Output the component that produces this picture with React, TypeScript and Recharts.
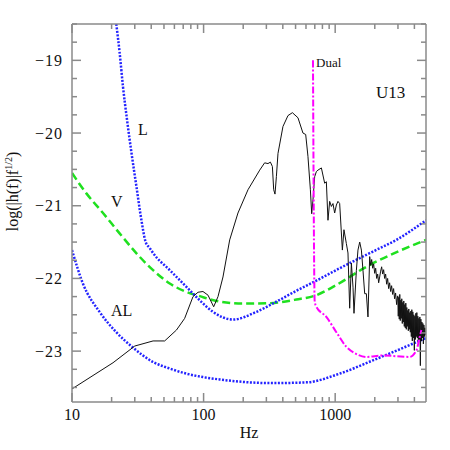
import React from 'react';
import { LineChart, Line, XAxis, YAxis } from 'recharts';

// ---- axis ticks ----
const X_TICKS = [10, 20, 30, 40, 50, 60, 70, 80, 90, 100, 200, 300, 400, 500, 600, 700, 800, 900, 1000, 2000, 3000, 4000];
const X_MAJOR = [10, 100, 1000];
const Y_TICKS = [-23.5, -23.25, -23, -22.75, -22.5, -22.25, -22, -21.75, -21.5, -21.25, -21, -20.75, -20.5, -20.25, -20, -19.75, -19.5, -19.25, -19, -18.75, -18.5];
const Y_MAJOR = [-23, -22, -21, -20, -19];
const X_DOMAIN = [10, 4900];
const Y_DOMAIN = [-23.7, -18.5];

// ---- L (blue dotted, upper) ----
const L_FREQ = [21.7, 23.0, 24.4, 26.2, 28.3, 30.9, 33.7, 36.3, 38.9, 41.3, 55.3, 74.0, 93.4, 117.9, 167.3, 252, 357, 507, 720, 1082, 1937, 2917, 4900];
const L_VAL = [-18.5, -18.89, -19.36, -19.82, -20.27, -20.74, -21.2, -21.5, -21.58, -21.65, -21.885, -22.116, -22.3, -22.46, -22.566, -22.46, -22.32, -22.17, -22.03, -21.86, -21.63, -21.47, -21.2];

// ---- V (green dashed) ----
const V_FREQ = [10, 12.86, 17.2, 23.0, 30.9, 41.3, 55.3, 74.0, 93.4, 125, 199, 318, 507, 720, 1000, 1726, 3090, 4900];
const V_VAL = [-20.55, -20.83, -21.1, -21.38, -21.655, -21.886, -22.07, -22.185, -22.244, -22.31, -22.345, -22.34, -22.29, -22.23, -22.1, -21.84, -21.62, -21.47];

// ---- AL (blue dotted, lower) ----
const AL_FREQ = [10, 12.1, 16.2, 21.7, 29, 41.3, 55.3, 74.0, 98.9, 132.5, 224, 336, 604, 1081, 1937, 3090, 4900];
const AL_VAL = [-21.61, -22.07, -22.46, -22.74, -22.95, -23.15, -23.24, -23.31, -23.357, -23.39, -23.43, -23.44, -23.43, -23.31, -23.127, -22.975, -22.82];

// ---- Dual (magenta dash-dot) ----
const DUAL_FREQ = [678, 699, 715, 857, 1021, 1216, 1449, 1726, 2307, 2916, 3681, 4140, 4385, 4518];
const DUAL_VAL = [-19.0, -22.32, -22.38, -22.53, -22.74, -22.94, -23.04, -23.08, -23.06, -23.07, -23.08, -22.99, -22.81, -22.71];

// ---- U13 signal (black) ----
const SIG_FREQ = [10, 20.5, 30, 41.3, 50.6, 62.2, 71.8, 83.1, 90.7, 98.9, 108, 119.3, 128.7, 140.4, 157.9, 182.5, 217.5, 267, 291, 308.6, 321.9, 333.3, 341, 348.8, 357.4, 367.6, 401, 437.8, 473, 521.6, 569, 597, 621, 648, 663, 678, 698.6, 719.6, 740, 785.6, 832, 857, 881.6, 908, 935.7, 962, 991, 1021, 1050, 1082, 1134, 1166, 1216, 1251, 1289, 1328, 1366, 1390, 1449, 1490, 1536, 1582, 1627, 1676, 1726, 1775,
  1829, 1861, 1894, 1927, 1961, 1996, 2031, 2067, 2103, 2140, 2178, 2216, 2255, 2295, 2335, 2376, 2418, 2461, 2504, 2548, 2593, 2639, 2685, 2732, 2780, 2829, 2879, 2930, 2960,
  2990, 3016, 3043, 3070, 3097, 3124, 3152, 3179, 3207, 3236, 3264, 3293, 3322, 3351, 3381, 3411, 3441, 3471, 3502, 3533, 3564, 3595, 3627, 3659, 3691, 3724, 3756, 3790, 3823, 3857, 3891, 3925, 3960, 3995, 4030, 4066, 4101, 4138, 4174, 4211, 4248, 4286, 4324, 4362, 4400, 4439, 4478, 4518, 4558, 4598, 4638, 4679, 4721, 4762, 4804, 4847, 4890];
const SIG_VAL = [-23.52, -23.16, -22.93, -22.86, -22.86, -22.71, -22.55, -22.25, -22.19, -22.18, -22.23, -22.39, -22.25, -21.98, -21.47, -21.1, -20.78, -20.51, -20.41, -20.42, -20.4, -20.46, -20.78, -20.84, -20.6, -20.28, -19.91, -19.76, -19.72, -19.79, -20.0, -20.02, -20.32, -20.78, -21.11, -20.92, -20.6, -20.53, -20.51, -20.48, -20.69, -20.67, -21.2, -20.94, -21.01, -20.97, -21.1, -20.99, -20.94, -20.97, -21.61, -21.33, -21.52, -21.65, -22.41, -21.79, -22.12, -22.48, -21.89, -21.61, -21.5, -21.61, -21.89, -22.21, -22.21, -22.53,
  -21.7, -21.82, -21.74, -21.86, -21.8, -21.93, -21.86, -22.0, -21.94, -22.06, -21.98, -21.9, -21.84, -21.94, -21.88, -22.0, -21.94, -22.08, -22.0, -22.14, -22.06, -22.18, -22.1, -22.22, -22.14, -22.28, -22.2, -22.36, -22.28,
  -22.24, -22.52, -22.26, -22.56, -22.22, -22.58, -22.3, -22.55, -22.28, -22.62, -22.33, -22.6, -22.31, -22.66, -22.36, -22.68, -22.34, -22.7, -22.4, -22.66, -22.44, -22.72, -22.42, -22.7, -22.47, -22.74, -22.45, -22.8, -22.43, -22.86, -22.46, -22.82, -22.5, -22.99, -22.52, -22.84, -22.48, -22.8, -22.47, -22.82, -22.52, -22.88, -22.55, -22.84, -22.53, -23.2, -22.56, -22.86, -22.6, -22.82, -22.62, -22.9, -22.64, -22.8, -22.68, -22.78, -22.72];

const zip = (fs: number[], vs: number[]) => fs.map((f, i) => ({ f, v: vs[i] }));
const lData = zip(L_FREQ, L_VAL);
const vData = zip(V_FREQ, V_VAL);
const alData = zip(AL_FREQ, AL_VAL);
const dualData = zip(DUAL_FREQ, DUAL_VAL);
const sigData = zip(SIG_FREQ, SIG_VAL);

const AXIS = '#8a8a8a';
const FONT = '"Liberation Serif", "DejaVu Serif", serif';
const MAJ = 9;
const MIN = 5;

const BottomTick = (p: any) => {
  const major = X_MAJOR.includes(p.payload.value);
  return (
    <g>
      <line x1={p.x} y1={p.y} x2={p.x} y2={p.y - (major ? MAJ : MIN)} stroke={AXIS} strokeWidth={1.5} />
      {major && (
        <text x={p.x} y={p.y + 18} textAnchor="middle" fontFamily={FONT} fontSize={16} fill="#111">
          {p.payload.value}
        </text>
      )}
    </g>
  );
};
const TopTick = (p: any) => {
  const major = X_MAJOR.includes(p.payload.value);
  return <line x1={p.x} y1={p.y} x2={p.x} y2={p.y + (major ? MAJ : MIN)} stroke={AXIS} strokeWidth={1.5} />;
};
const LeftTick = (p: any) => {
  const major = Y_MAJOR.includes(p.payload.value);
  return (
    <g>
      <line x1={p.x} y1={p.y} x2={p.x + (major ? MAJ : MIN)} y2={p.y} stroke={AXIS} strokeWidth={1.5} />
      {major && (
        <text x={p.x - 9} y={p.y + 5.5} textAnchor="end" fontFamily={FONT} fontSize={16} fill="#111" letterSpacing={1}>
          {'\u2212' + Math.abs(p.payload.value)}
        </text>
      )}
    </g>
  );
};
const RightTick = (p: any) => {
  const major = Y_MAJOR.includes(p.payload.value);
  return <line x1={p.x} y1={p.y} x2={p.x - (major ? MAJ : MIN)} y2={p.y} stroke={AXIS} strokeWidth={1.5} />;
};

export default function App() {
  return (
    <div style={{ position: 'absolute', left: 0, top: 0, width: 450, height: 450, background: '#fff' }}>
      <LineChart width={450} height={450} margin={{ top: 23, right: 23, bottom: 18, left: 0 }}>
        <XAxis xAxisId={0} dataKey="f" type="number" scale="log" domain={X_DOMAIN} allowDataOverflow ticks={X_TICKS} interval={0} height={30} tickSize={0} tickMargin={0} tickLine={false} axisLine={{ stroke: AXIS, strokeWidth: 1.5 }} tick={<BottomTick />} orientation="bottom" />
        <XAxis xAxisId="top" dataKey="f" type="number" scale="log" domain={X_DOMAIN} allowDataOverflow ticks={X_TICKS} interval={0} height={1} tickSize={0} tickMargin={0} tickLine={false} axisLine={{ stroke: AXIS, strokeWidth: 1.5 }} tick={<TopTick />} orientation="top" />
        <YAxis yAxisId={0} type="number" domain={Y_DOMAIN} allowDataOverflow ticks={Y_TICKS} interval={0} width={72} tickSize={0} tickMargin={0} tickLine={false} axisLine={{ stroke: AXIS, strokeWidth: 1.5 }} tick={<LeftTick />} orientation="left" />
        <YAxis yAxisId="right" type="number" domain={Y_DOMAIN} allowDataOverflow ticks={Y_TICKS} interval={0} width={1} tickSize={0} tickMargin={0} tickLine={false} axisLine={{ stroke: AXIS, strokeWidth: 1.5 }} tick={<RightTick />} orientation="right" />

        <Line data={alData} dataKey="v" type="monotone" stroke="#2323ff" strokeWidth={2.5} strokeDasharray="2 1.5" dot={false} isAnimationActive={false} />
        <Line data={vData} dataKey="v" type="monotone" stroke="#1fe01f" strokeWidth={2.5} strokeDasharray="8 4" dot={false} isAnimationActive={false} />
        <Line data={lData} dataKey="v" type="monotone" stroke="#2323ff" strokeWidth={2.5} strokeDasharray="2 1.5" dot={false} isAnimationActive={false} />
        <Line data={sigData} dataKey="v" type="linear" stroke="#111" strokeWidth={1} dot={false} isAnimationActive={false} />
        <Line data={dualData} dataKey="v" type="monotone" stroke="#ff00ff" strokeWidth={2} strokeDasharray="7 2 2 2" dot={false} isAnimationActive={false} />

        <text x={138} y={135} fontFamily={FONT} fontSize={16} fill="#111">L</text>
        <text x={111} y={207} fontFamily={FONT} fontSize={16} fill="#111">V</text>
        <text x={111} y={316} fontFamily={FONT} fontSize={16} fill="#111">AL</text>
        <text x={316} y={67} fontFamily={FONT} fontSize={13} fill="#111">Dual</text>
        <text x={376} y={98} fontFamily={FONT} fontSize={17} fill="#111">U13</text>
        <text x={249} y={438} textAnchor="middle" fontFamily={FONT} fontSize={16} fill="#111">Hz</text>
        <text x={18} y={191.5} transform="rotate(-90, 18, 191.5)" textAnchor="middle" fontFamily={FONT} fontSize={16} fill="#111">
          log(|h(f)|f<tspan fontSize={10} dy={-6}>1/2</tspan><tspan dy={6}>)</tspan>
        </text>
      </LineChart>
    </div>
  );
}
